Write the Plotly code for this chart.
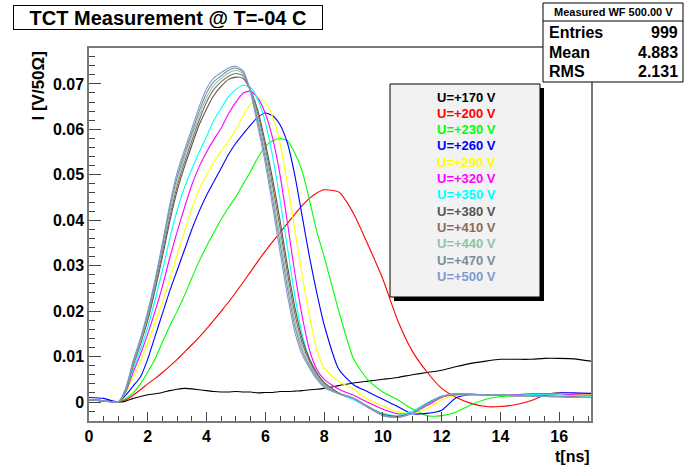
import plotly.graph_objects as go

# ---------------- data ----------------
t = [0.0, 0.5, 1.0, 1.25, 1.5, 1.75, 2.0, 2.25, 2.5, 2.75, 3.0, 3.25, 3.5, 3.75,
     4.0, 4.25, 4.5, 4.75, 5.0, 5.25, 5.5, 5.75, 6.0, 6.25, 6.5, 6.75, 7.0, 7.25,
     7.5, 7.75, 8.0, 8.5, 9.0, 9.5, 10.0, 10.5, 11.0, 11.5, 12.0, 12.5, 13.0,
     13.5, 14.0, 14.5, 15.0, 15.5, 16.0, 16.5, 17.08]

labels = ["U=+170 V", "U=+200 V", "U=+230 V", "U=+260 V", "U=+290 V", "U=+320 V",
          "U=+350 V", "U=+380 V", "U=+410 V", "U=+440 V", "U=+470 V", "U=+500 V"]

colors = ["#000000", "#ff0000", "#00ff00", "#0000ff", "#ffff00", "#ff00ff",
          "#00ffff", "#555555", "#8a6a5a", "#8cc4a4", "#7b8d9a", "#7e9ad0"]

u170 = [0.0005, 0.0002, 0.0, 0.0002, 0.0008, 0.0012, 0.0016, 0.0018, 0.0021, 0.0025, 0.0028,
        0.0030, 0.0029, 0.0027, 0.0025, 0.0023, 0.0022, 0.0022, 0.0023, 0.0022, 0.0022, 0.0020,
        0.0021, 0.0021, 0.0023, 0.0023, 0.0024, 0.0025, 0.0027, 0.0028, 0.0030, 0.0036, 0.0042,
        0.0046, 0.0050, 0.0054, 0.0060, 0.0065, 0.0070, 0.0078, 0.0085, 0.0090, 0.0094, 0.0094,
        0.0094, 0.0096, 0.0096, 0.0095, 0.0090]
u200 = [0.0005, 0.0003, 0.0, 0.0005, 0.0015, 0.0027, 0.0040, 0.0052, 0.0065, 0.0079, 0.0094,
        0.0110, 0.0126, 0.0143, 0.0161, 0.0180, 0.0200, 0.0220, 0.0242, 0.0264, 0.0287, 0.0310,
        0.0332, 0.0353, 0.0373, 0.0393, 0.0413, 0.0432, 0.0448, 0.0460, 0.0467, 0.0462, 0.0415,
        0.0345, 0.0270, 0.0180, 0.0112, 0.0066, 0.0030, 0.0010, -0.0003, -0.0010, -0.0010,
        -0.0006, 0.0002, 0.0015, 0.0020, 0.0018, 0.0015]
u230 = [0.0005, 0.0003, 0.0, 0.0008, 0.0020, 0.0040, 0.0066, 0.0095, 0.0132, 0.0168, 0.0200,
        0.0235, 0.0273, 0.0310, 0.0343, 0.0373, 0.0402, 0.0428, 0.0452, 0.0480, 0.0508, 0.0538,
        0.0562, 0.0575, 0.0580, 0.0575, 0.0548, 0.0508, 0.0445, 0.0375, 0.0320, 0.0200, 0.0095,
        0.0048, 0.0022, 0.0005, -0.0015, -0.0030, -0.0030, -0.0022, -0.0006, 0.0006, 0.0012,
        0.0014, 0.0015, 0.0015, 0.0018, 0.0017, 0.0015]
u260 = [0.0010, 0.0008, 0.0, 0.0015, 0.0035, 0.0055, 0.0095, 0.0145, 0.0195, 0.0245, 0.0290,
        0.0335, 0.0380, 0.0420, 0.0455, 0.0485, 0.0515, 0.0545, 0.0570, 0.0590, 0.0610, 0.0627,
        0.0636, 0.0630, 0.0610, 0.0570, 0.0500, 0.0410, 0.0320, 0.0240, 0.0170, 0.0072, 0.0038,
        0.0022, 0.0006, -0.0010, -0.0026, -0.0025, -0.0018, 0.0010, 0.0016, 0.0016, 0.0015,
        0.0016, 0.0017, 0.0018, 0.0020, 0.0020, 0.0019]
u290 = [0.0005, 0.0003, 0.0, 0.0020, 0.0055, 0.0090, 0.0130, 0.0175, 0.0220, 0.0270, 0.0325,
        0.0375, 0.0425, 0.0468, 0.0500, 0.0528, 0.0552, 0.0575, 0.0600, 0.0630, 0.0656, 0.0667,
        0.0660, 0.0627, 0.0570, 0.0480, 0.0380, 0.0280, 0.0190, 0.0115, 0.0075, 0.0045, 0.0028,
        0.0005, -0.0009, -0.0022, -0.0025, -0.0015, 0.0005, 0.0015, 0.0016, 0.0015, 0.0015,
        0.0016, 0.0017, 0.0018, 0.0019, 0.0017, 0.0016]
u320 = [0.0005, 0.0003, 0.0, 0.0022, 0.0065, 0.0105, 0.0150, 0.0200, 0.0255, 0.0318, 0.0375,
        0.0428, 0.0478, 0.0518, 0.0550, 0.0578, 0.0603, 0.0635, 0.0660, 0.0680, 0.0684, 0.0668,
        0.0635, 0.0580, 0.0500, 0.0395, 0.0285, 0.0190, 0.0115, 0.0072, 0.0050, 0.0028, 0.0015,
        -0.0001, -0.0016, -0.0026, -0.0025, -0.0008, 0.0010, 0.0016, 0.0016, 0.0015, 0.0015,
        0.0016, 0.0018, 0.0018, 0.0018, 0.0016, 0.0015]
u350 = [0.0005, 0.0003, 0.0, 0.0024, 0.0072, 0.0115, 0.0165, 0.0225, 0.0290, 0.0360, 0.0422,
        0.0472, 0.0512, 0.0550, 0.0584, 0.0620, 0.0647, 0.0672, 0.0688, 0.0697, 0.0692, 0.0665,
        0.0615, 0.0540, 0.0445, 0.0340, 0.0235, 0.0150, 0.0095, 0.0058, 0.0040, 0.0018, 0.0005,
        -0.0012, -0.0025, -0.0030, -0.0020, -0.0002, 0.0013, 0.0017, 0.0016, 0.0015, 0.0015,
        0.0015, 0.0016, 0.0016, 0.0015, 0.0014, 0.0013]
u380 = [0.0005, 0.0003, 0.0, 0.0026, 0.0080, 0.0127, 0.0180, 0.0247, 0.0320, 0.0398, 0.0465,
        0.0518, 0.0565, 0.0610, 0.0645, 0.0675, 0.0695, 0.0710, 0.0715, 0.0712, 0.0685, 0.0640,
        0.0570, 0.0490, 0.0400, 0.0300, 0.0210, 0.0140, 0.0095, 0.0065, 0.0043, 0.0020, 0.0008,
        -0.0010, -0.0027, -0.0032, -0.0024, -0.0004, 0.0012, 0.0018, 0.0017, 0.0016, 0.0015,
        0.0014, 0.0014, 0.0013, 0.0012, 0.0011, 0.0010]
u410 = [0.0005, 0.0003, 0.0, 0.0027, 0.0082, 0.0130, 0.0185, 0.0253, 0.0330, 0.0408, 0.0475,
        0.0528, 0.0575, 0.0620, 0.0660, 0.0688, 0.0705, 0.0717, 0.0723, 0.0718, 0.0686, 0.0632,
        0.0559, 0.0475, 0.0383, 0.0284, 0.0195, 0.0131, 0.0090, 0.0062, 0.0040, 0.0019, 0.0008,
        -0.0011, -0.0028, -0.0033, -0.0025, -0.0004, 0.0012, 0.0018, 0.0017, 0.0016, 0.0015,
        0.0014, 0.0014, 0.0013, 0.0012, 0.0011, 0.0010]
u440 = [0.0005, 0.0003, 0.0, 0.0028, 0.0085, 0.0133, 0.0190, 0.0260, 0.0340, 0.0418, 0.0485,
        0.0538, 0.0585, 0.0630, 0.0670, 0.0697, 0.0712, 0.0724, 0.0730, 0.0722, 0.0685, 0.0623,
        0.0548, 0.0460, 0.0365, 0.0268, 0.0180, 0.0122, 0.0085, 0.0058, 0.0038, 0.0018, 0.0008,
        -0.0011, -0.0029, -0.0034, -0.0025, -0.0005, 0.0012, 0.0018, 0.0017, 0.0016, 0.0015,
        0.0014, 0.0014, 0.0012, 0.0012, 0.0010, 0.0010]
u470 = [0.0005, 0.0003, 0.0, 0.0030, 0.0088, 0.0137, 0.0195, 0.0265, 0.0345, 0.0428, 0.0495,
        0.0546, 0.0593, 0.0640, 0.0680, 0.0705, 0.0718, 0.0730, 0.0735, 0.0726, 0.0683, 0.0615,
        0.0537, 0.0445, 0.0348, 0.0252, 0.0168, 0.0113, 0.0080, 0.0054, 0.0035, 0.0018, 0.0008,
        -0.0012, -0.0030, -0.0034, -0.0025, -0.0005, 0.0012, 0.0018, 0.0017, 0.0016, 0.0015,
        0.0014, 0.0014, 0.0012, 0.0011, 0.0010, 0.0010]
u500 = [0.0005, 0.0003, 0.0, 0.0030, 0.0090, 0.0140, 0.0200, 0.0270, 0.0350, 0.0435, 0.0505,
        0.0555, 0.0602, 0.0650, 0.0690, 0.0713, 0.0725, 0.0735, 0.0739, 0.0728, 0.0680, 0.0605,
        0.0525, 0.0430, 0.0330, 0.0235, 0.0155, 0.0105, 0.0075, 0.0050, 0.0032, 0.0018, 0.0008,
        -0.0012, -0.0030, -0.0034, -0.0025, -0.0005, 0.0012, 0.0018, 0.0017, 0.0016, 0.0015,
        0.0014, 0.0014, 0.0012, 0.0012, 0.0010, 0.0010]

series = [u170, u200, u230, u260, u290, u320, u350, u380, u410, u440, u470, u500]

title_text = "TCT Measurement @ T=-04 C"
stats_title = "Measured WF 500.00 V"
stats_rows = [("Entries", "999"), ("Mean", "4.883"), ("RMS", "2.131")]
x_title = "t[ns]"
y_title = "I [V/50Ω]"

# ---------------- layout geometry (pixels) ----------------
W, H = 685, 468
L, R, T, B = 89, 591, 48, 421
FONT = "Liberation Sans, Arial, Helvetica, sans-serif"


def fx(px):
    return (px - L) / (R - L)


def fy(py):
    return (B - py) / (B - T)


fig = go.Figure()
for vals, col, name in zip(series, colors, labels):
    fig.add_trace(go.Scatter(x=t, y=vals, mode="lines", name=name,
                             line=dict(color=col, width=1.1, shape="spline", smoothing=0.6),
                             showlegend=False))

shapes = []
annotations = []

# title box
annotations.append(dict(xref="paper", yref="paper", x=fx(13), y=fy(5), xanchor="left", yanchor="top",
                        text="<b>%s</b>" % title_text, showarrow=False,
                        font=dict(family=FONT, size=20, color="black"),
                        bordercolor="black", borderwidth=1, bgcolor="white",
                        width=306, height=21, borderpad=1, align="center"))

# stats box
shapes.append(dict(type="rect", xref="paper", yref="paper", x0=fx(543), x1=fx(683), y0=fy(82), y1=fy(3),
                   line=dict(color="black", width=1), fillcolor="white", layer="above"))
shapes.append(dict(type="line", xref="paper", yref="paper", x0=fx(543), x1=fx(683), y0=fy(21), y1=fy(21),
                   line=dict(color="black", width=1), layer="above"))
annotations.append(dict(xref="paper", yref="paper", x=fx(613), y=fy(12), xanchor="center", yanchor="middle",
                        text="<b>%s</b>" % stats_title, showarrow=False,
                        font=dict(family=FONT, size=11, color="black")))
for i, (k, v) in enumerate(stats_rows):
    yy = fy(33 + i * 19)
    annotations.append(dict(xref="paper", yref="paper", x=fx(547), y=yy, xanchor="left", yanchor="middle",
                            text="<b>%s</b>" % k, showarrow=False,
                            font=dict(family=FONT, size=16, color="black")))
    annotations.append(dict(xref="paper", yref="paper", x=fx(680), y=yy, xanchor="right", yanchor="middle",
                            text="<b>%s</b>" % v, showarrow=False,
                            font=dict(family=FONT, size=16, color="black")))

# legend box with shadow
shapes.append(dict(type="rect", xref="paper", yref="paper", x0=fx(394), x1=fx(544), y0=fy(301), y1=fy(88),
                   line=dict(width=0), fillcolor="black", layer="above"))
shapes.append(dict(type="rect", xref="paper", yref="paper", x0=fx(390), x1=fx(540), y0=fy(297), y1=fy(84),
                   line=dict(color="black", width=1), fillcolor="#f2f2f2", layer="above"))
for i, (name, col) in enumerate(zip(labels, colors)):
    annotations.append(dict(xref="paper", yref="paper", x=fx(466), y=fy(97 + i * 16.3),
                            xanchor="center", yanchor="middle", text="<b>%s</b>" % name,
                            showarrow=False, font=dict(family=FONT, size=13, color=col)))

# axis titles
annotations.append(dict(xref="paper", yref="paper", x=fx(592), y=fy(456), xanchor="right", yanchor="middle",
                        text="<b>%s</b>" % x_title, showarrow=False,
                        font=dict(family=FONT, size=16, color="black")))
annotations.append(dict(xref="paper", yref="paper", x=fx(38), y=fy(50), xanchor="center", yanchor="top",
                        text="<b>%s</b>" % y_title, showarrow=False, textangle=-90,
                        font=dict(family=FONT, size=17, color="black")))

fig.update_layout(
    width=W, height=H,
    margin=dict(l=L, r=W - R, t=T, b=H - B, pad=0),
    paper_bgcolor="white", plot_bgcolor="white",
    shapes=shapes, annotations=annotations,
    showlegend=False,
    xaxis=dict(range=[0, 17.08], showgrid=False, zeroline=False,
               showline=True, mirror=True, linecolor="#7a7a7a", linewidth=1.5,
               ticks="inside", ticklen=9, tickcolor="#444", tickwidth=1,
               dtick=2, tick0=0,
               minor=dict(ticks="inside", ticklen=5, dtick=0.5, tickcolor="#444", showgrid=False),
               tickfont=dict(family=FONT, size=16, color="black", weight="bold")),
    yaxis=dict(range=[-0.00418, 0.0779], showgrid=False, zeroline=False,
               showline=True, mirror=True, linecolor="#7a7a7a", linewidth=1.5,
               ticks="inside", ticklen=12, tickcolor="#444", tickwidth=1,
               dtick=0.01, tick0=0,
               minor=dict(ticks="inside", ticklen=6, dtick=0.002, tickcolor="#444", showgrid=False),
               tickfont=dict(family=FONT, size=16, color="black", weight="bold")),
)

fig.write_html("out.html")
